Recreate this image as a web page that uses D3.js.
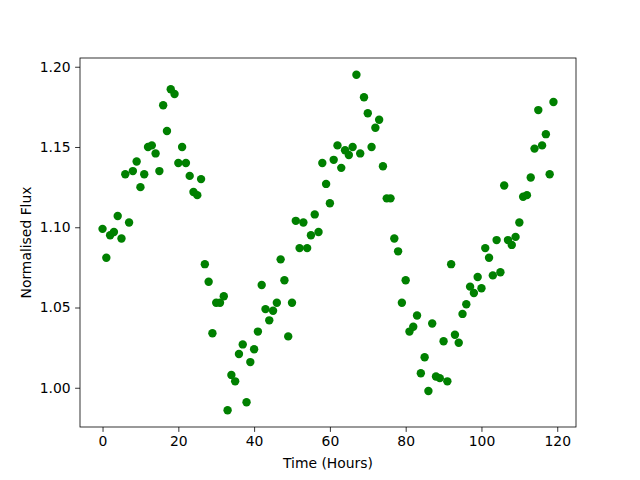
<!DOCTYPE html>
<html lang="en">
<head>
    <style>
        body { margin: 0; background: #fff; }
        svg { display: block; }
        text { font-family: "DejaVu Sans", sans-serif; fill: #000; }
    </style>
</head>
<body>
    <svg width="640" height="480"></svg>
    <script src="https://cdn.jsdelivr.net/npm/d3@7"></script>
    <script>
        // Data: hourly normalised flux readings
        const hours = d3.range(0, 120);
        const flux = [
            1.099, 1.081, 1.095, 1.097, 1.107, 1.093, 1.133, 1.103, 1.135, 1.141,
            1.125, 1.133, 1.150, 1.151, 1.146, 1.135, 1.176, 1.160, 1.186, 1.183,
            1.140, 1.150, 1.140, 1.132, 1.122, 1.120, 1.130, 1.077, 1.066, 1.034,
            1.053, 1.053, 1.057, 0.986, 1.008, 1.004, 1.021, 1.027, 0.991, 1.016,
            1.024, 1.035, 1.064, 1.049, 1.042, 1.048, 1.053, 1.080, 1.067, 1.032,
            1.053, 1.104, 1.087, 1.103, 1.087, 1.095, 1.108, 1.097, 1.140, 1.127,
            1.115, 1.142, 1.151, 1.137, 1.148, 1.145, 1.150, 1.195, 1.146, 1.181,
            1.171, 1.150, 1.162, 1.167, 1.138, 1.118, 1.118, 1.093, 1.085, 1.053,
            1.067, 1.035, 1.038, 1.045, 1.009, 1.019, 0.998, 1.040, 1.007, 1.006,
            1.029, 1.004, 1.077, 1.033, 1.028, 1.046, 1.052, 1.063, 1.059, 1.069,
            1.062, 1.087, 1.081, 1.070, 1.092, 1.072, 1.126, 1.092, 1.089, 1.094,
            1.103, 1.119, 1.120, 1.131, 1.149, 1.173, 1.151, 1.158, 1.133, 1.178
        ];
        const xTicks = [0, 20, 40, 60, 80, 100, 120];
        const yTicks = [1.00, 1.05, 1.10, 1.15, 1.20];

        const svg = d3.select("svg");
        const plotLeft = 80, plotRight = 576, plotTop = 58, plotBottom = 427;

        // matplotlib-style 5% margins
        const xPad = (d3.max(hours) - d3.min(hours)) * 0.05;
        const yPad = (d3.max(flux) - d3.min(flux)) * 0.05;
        const x = d3.scaleLinear()
            .domain([d3.min(hours) - xPad, d3.max(hours) + xPad])
            .range([plotLeft, plotRight]);
        const y = d3.scaleLinear()
            .domain([d3.min(flux) - yPad, d3.max(flux) + yPad])
            .range([plotBottom, plotTop]);

        // Points
        svg.append("g").selectAll("circle")
            .data(hours)
            .enter()
            .append("circle")
            .attr("cx", d => x(d))
            .attr("cy", (d, i) => y(flux[i]))
            .attr("r", 4.2)
            .attr("fill", "#008000");

        // Axes
        const xAxis = svg.append("g")
            .attr("transform", `translate(0, ${plotBottom})`)
            .call(d3.axisBottom(x).tickValues(xTicks).tickSize(4.9).tickPadding(4.5));
        const yAxis = svg.append("g")
            .attr("transform", `translate(${plotLeft}, 0)`)
            .call(d3.axisLeft(y).tickValues(yTicks).tickFormat(d3.format(".2f")).tickSize(4.9).tickPadding(4.5));
        [xAxis, yAxis].forEach(a => {
            a.select(".domain").remove();
            a.selectAll("line").attr("stroke", "#000").attr("stroke-width", 0.8);
            a.selectAll("text").style("font-size", "13.9px").attr("font-family", "DejaVu Sans");
        });

        // Frame
        svg.append("rect")
            .attr("x", plotLeft).attr("y", plotTop)
            .attr("width", plotRight - plotLeft).attr("height", plotBottom - plotTop)
            .attr("fill", "none").attr("stroke", "#000").attr("stroke-width", 0.8);

        // Labels
        svg.append("text")
            .attr("x", (plotLeft + plotRight) / 2).attr("y", 468)
            .attr("text-anchor", "middle")
            .style("font-size", "13.9px")
            .text("Time (Hours)");
        svg.append("text")
            .attr("transform", `translate(31, ${(plotTop + plotBottom) / 2}) rotate(-90)`)
            .attr("text-anchor", "middle")
            .style("font-size", "13.9px")
            .text("Normalised Flux");
    </script>
</body>
</html>
